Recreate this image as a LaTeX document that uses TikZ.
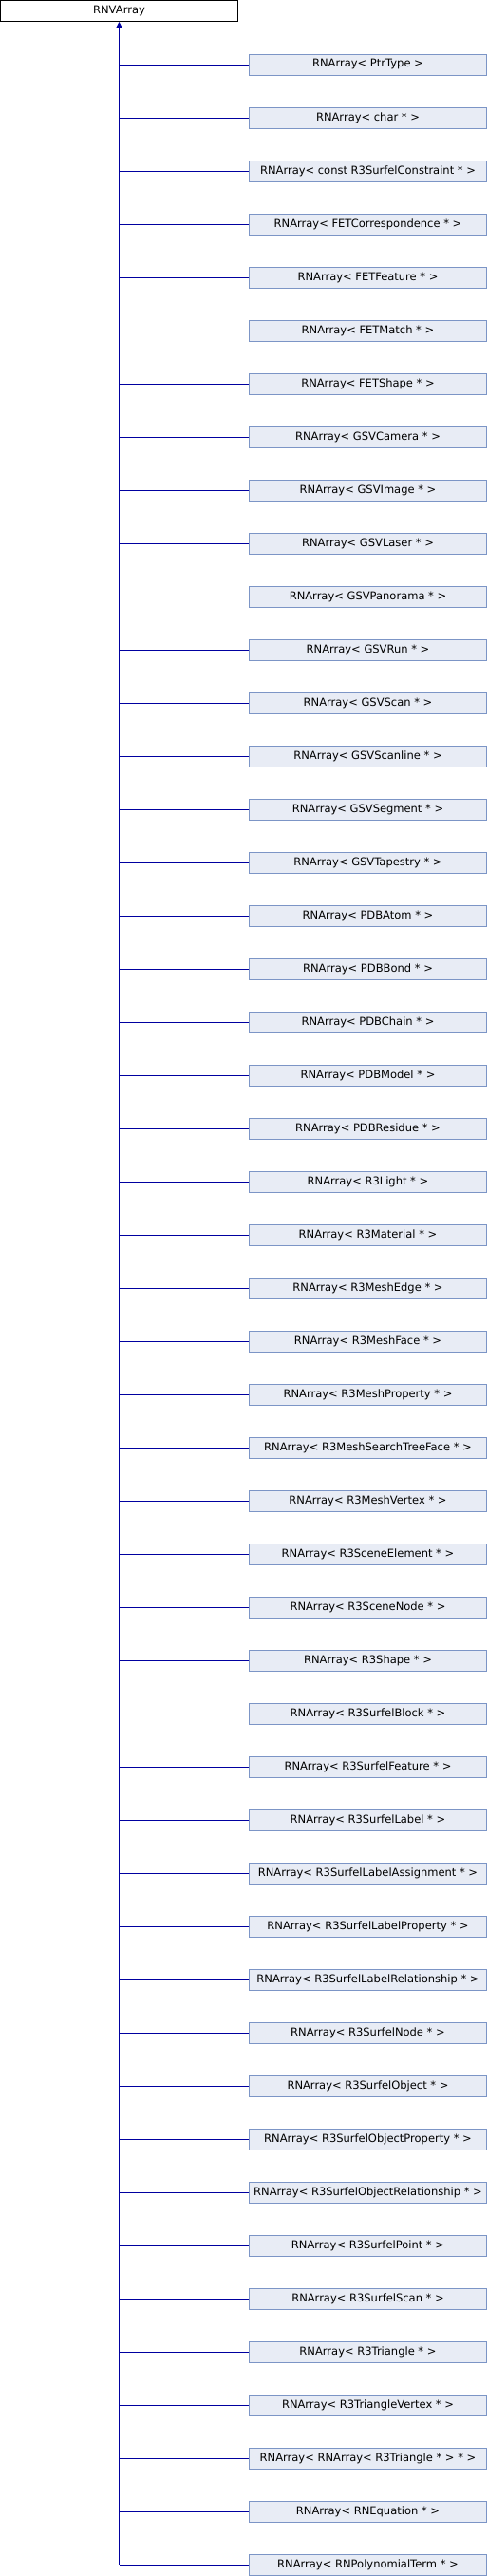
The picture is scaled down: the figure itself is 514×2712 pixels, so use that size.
\documentclass[tikz,border=0pt]{standalone}
\usepackage{fontspec}
\setmainfont{DejaVu Sans}
\usetikzlibrary{arrows.meta}
\definecolor{edgeblue}{RGB}{0,0,160}
\definecolor{boxline}{RGB}{124,149,198}
\definecolor{boxfill}{RGB}{232,236,245}
\tikzset{
  base/.style={draw=black, fill=white, line width=1pt, minimum width=250pt, minimum height=22pt, inner sep=0pt, font=\fontsize{11.5}{13}\selectfont},
  derived/.style={base, draw=boxline, fill=boxfill},
  link/.style={edgeblue, line width=1pt}
}
\begin{document}
\begin{tikzpicture}[x=1pt,y=-1pt]
\useasboundingbox (0,0) rectangle (514,2712);
\node [base] (root) at (125.5,11.5) {RNVArray};
% one box per template instance, all hanging off the same trunk
\foreach \lbl [count=\i] in {PtrType,char *,const R3SurfelConstraint *,FETCorrespondence *,FETFeature *,FETMatch *,FETShape *,GSVCamera *,GSVImage *,GSVLaser *,GSVPanorama *,GSVRun *,GSVScan *,GSVScanline *,GSVSegment *,GSVTapestry *,PDBAtom *,PDBBond *,PDBChain *,PDBModel *,PDBResidue *,R3Light *,R3Material *,R3MeshEdge *,R3MeshFace *,R3MeshProperty *,R3MeshSearchTreeFace *,R3MeshVertex *,R3SceneElement *,R3SceneNode *,R3Shape *,R3SurfelBlock *,R3SurfelFeature *,R3SurfelLabel *,R3SurfelLabelAssignment *,R3SurfelLabelProperty *,R3SurfelLabelRelationship *,R3SurfelNode *,R3SurfelObject *,R3SurfelObjectProperty *,R3SurfelObjectRelationship *,R3SurfelPoint *,R3SurfelScan *,R3Triangle *,R3TriangleVertex *,RNArray< R3Triangle * > *,RNEquation *,RNPolynomialTerm *}
{
  \node [derived] (c\i) at (387.5,{68+56*(\i-1)}) {RNArray< \lbl{} >};
  \draw [link] (c\i.west) -- (c\i.west -| root.south);
}
\draw [link,-{Triangle[width=6pt,length=6pt]}] (c48.west -| root.south) -- (root.south);
\end{tikzpicture}
\end{document}
